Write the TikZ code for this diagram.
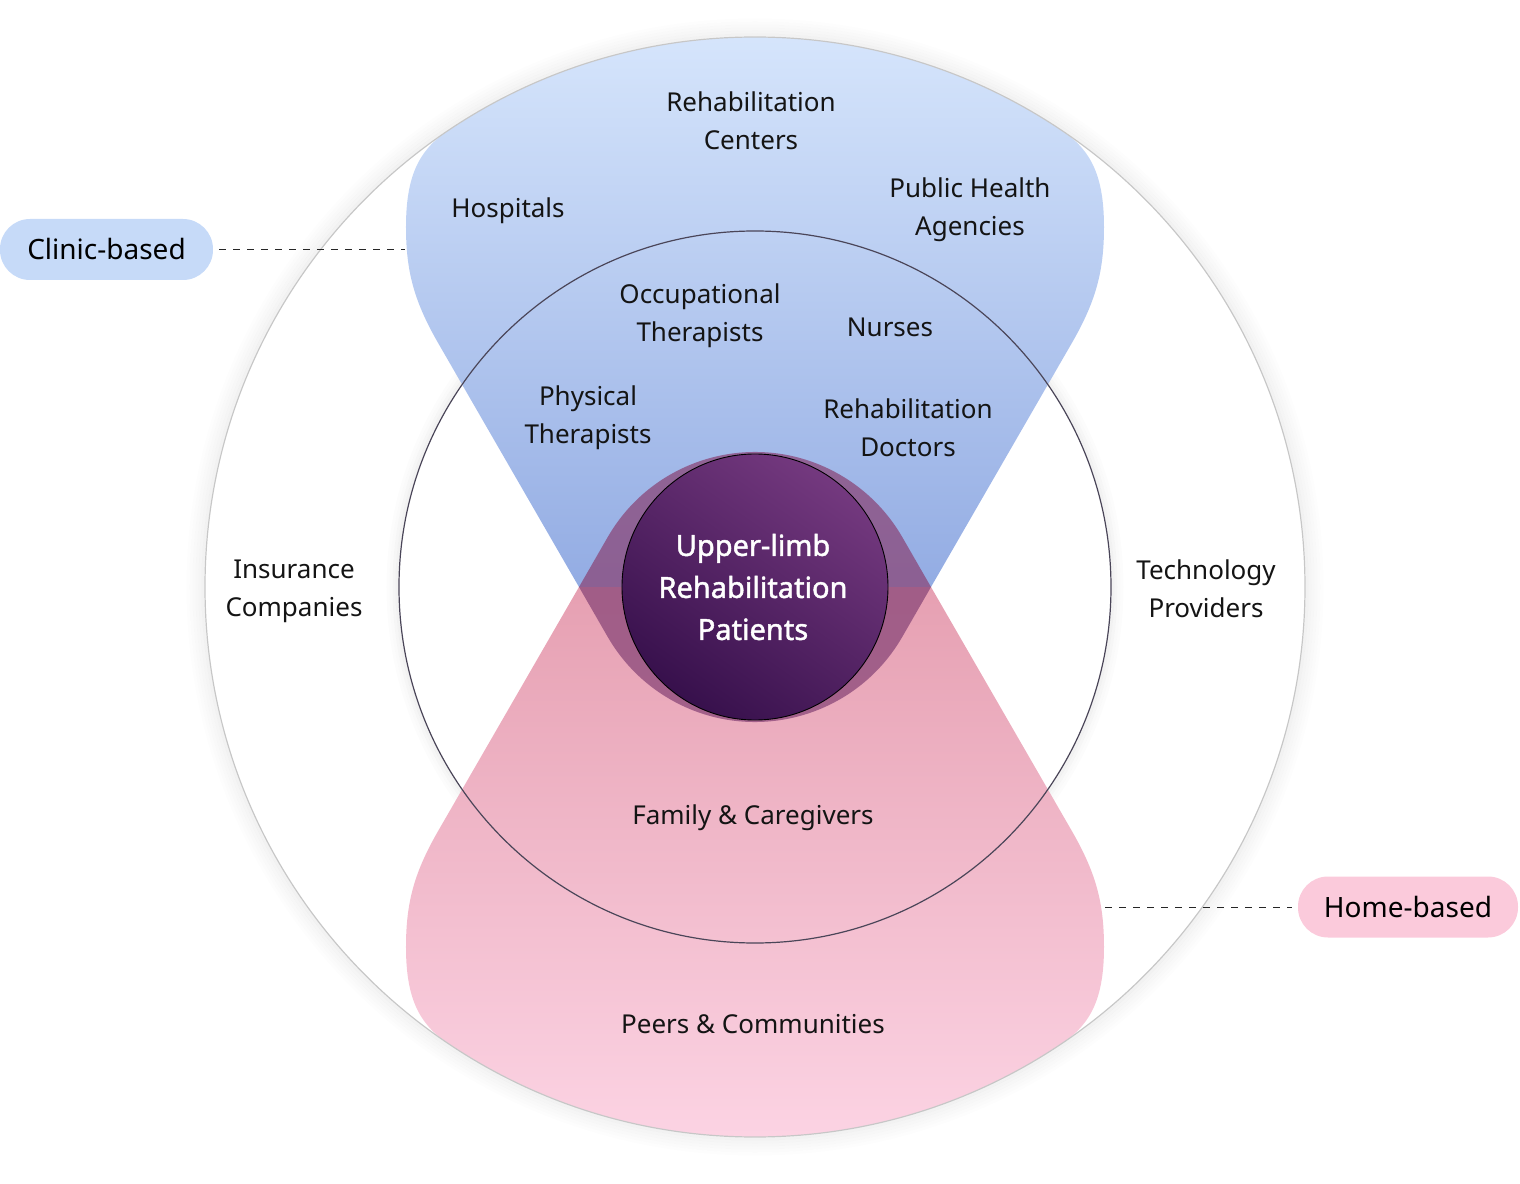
\documentclass[tikz,border=0pt]{standalone}
\usepackage{fontspec}
\setmainfont{Noto Sans}
\newfontfamily\corefont[FakeBold=1.6]{Noto Sans}
\usepackage{tikz}
\usetikzlibrary{positioning,calc}

\definecolor{clinictop}{HTML}{D9E8FD}
\definecolor{clinicbot}{HTML}{93ACE3}
\definecolor{homenear}{HTML}{E6A0B2}
\definecolor{homefar}{HTML}{FDD6E6}
\definecolor{halotone}{HTML}{8A4779}
\definecolor{coretop}{HTML}{74397F}
\definecolor{corebot}{HTML}{37104C}
\definecolor{clinicpill}{HTML}{C6DAF8}
\definecolor{homepill}{HTML}{FBCADB}
\definecolor{ringline}{HTML}{4A4558}

\tikzset{
  lbl/.style={font=\fontsize{26}{38}\selectfont,align=center,text=black!92,inner sep=0pt},
  corelbl/.style={font=\corefont\fontsize{29}{42}\selectfont,align=center,text=white,inner sep=0pt},
  pill/.style={rounded corners=30pt,minimum height=61pt,inner sep=0pt,
               font=\fontsize{28}{34}\selectfont,text=black},
  link/.style={dash pattern=on 7pt off 7pt,line width=0.9pt,black!85},
  ring/.style={line width=1.2pt}
}

% one lobe, drawn upward from the centre; mirrored for the home lobe
\newcommand\lobepath{
  (-176,0) -- (-318.6,247)
  .. controls (-340.5,286) and (-349,315) .. (-349,360)
  .. controls (-349,410) and (-336.6,436.4) .. (124:550)
  arc[start angle=124,end angle=56,radius=550]
  .. controls (336.6,436.4) and (349,410) .. (349,360)
  .. controls (349,315) and (340.5,286) .. (318.6,247)
  -- (176,0) -- cycle}

\begin{document}
\begin{tikzpicture}[x=1pt,y=1pt]
  \useasboundingbox (-755,-596) rectangle (765,587);

  % ---- ring glow ----
  \foreach \r/\o in {552/0.05,555/0.04,558/0.03,561/0.022,564/0.015,567/0.008}
    \draw[line width=3pt,black,opacity=\o] (0,0) circle[radius=\r];
  \foreach \r/\o in {358/0.05,361/0.035,364/0.02,367/0.01}
    \draw[line width=3pt,black,opacity=\o] (0,0) circle[radius=\r];

  % ---- lobes ----
  \shade[top color=clinictop,bottom color=clinicbot] \lobepath;
  \begin{scope}[yscale=-1]
    \shade[top color=homenear,bottom color=homefar] \lobepath;
  \end{scope}

  % ---- rings ----
  \draw[ring,black!22] (0,0) circle[radius=550];
  \draw[ring,ringline] (0,0) circle[radius=356];

  % ---- halo and core ----
  \fill[halotone,opacity=0.75] (-176,0) -- ($(150:170)+(0,-35)$)
    arc[start angle=150,end angle=30,radius=170] -- (176,0)
    -- ($(-30:170)+(0,35)$) arc[start angle=-30,end angle=-150,radius=170] -- cycle;
  \shade[top color=coretop,bottom color=corebot,shading angle=-35,draw=black,line width=0.9pt]
    (0,0) circle[radius=133];
  \node[corelbl] (core) at (-2,0) {Upper-limb\\Rehabilitation\\Patients};

  % ---- clinic side ----
  \node[lbl] (centers) at (-4,466) {Rehabilitation\\Centers};
  \node[lbl] (hosp) at (-247,376) {Hospitals};
  \node[lbl] (public) at (215,377) {Public Health\\Agencies};
  \node[lbl] (occup) at (-55,271) {Occupational\\Therapists};
  \node[lbl] (nurses) at (135,260) {Nurses};
  \node[lbl] (phys) at (-167,169) {Physical\\Therapists};
  \node[lbl] (doctors) at (153,159) {Rehabilitation\\Doctors};

  % ---- sides ----
  \node[lbl] (insur) at (-461,-4) {Insurance\\Companies};
  \node[lbl] (tech) at (451,-2) {Technology\\Providers};

  % ---- home side ----
  \node[lbl] (family) at (-2,-231) {Family \& Caregivers};
  \node[lbl] (peers) at (-2,-437) {Peers \& Communities};

  % ---- tags ----
  \node[pill,fill=clinicpill,minimum width=213pt] (clinic) at (-648.5,337.5) {Clinic-based};
  \node[pill,fill=homepill,minimum width=220pt] (home) at (653,-320) {Home-based};
  \coordinate (clinicend) at (-350,337.5);
  \coordinate (homeend) at (350,-320);
  \draw[link] ([xshift=6pt]clinic.east) -- (clinicend);
  \draw[link] (homeend) -- ([xshift=-6pt]home.west);
\end{tikzpicture}
\end{document}
